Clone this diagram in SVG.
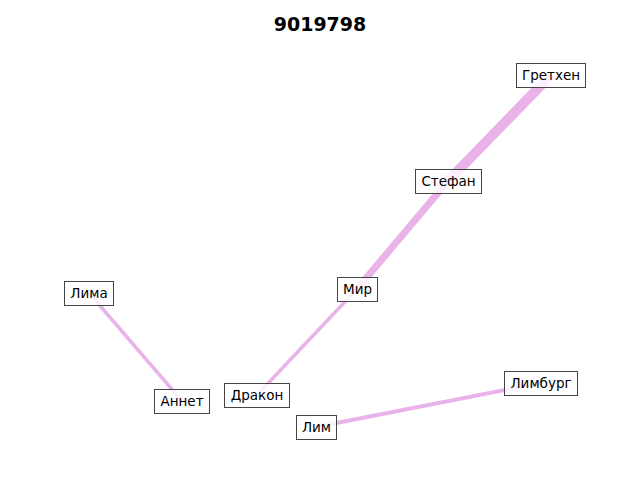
<svg xmlns="http://www.w3.org/2000/svg" width="640" height="480" viewBox="0 0 640 480">
<style>
.e{stroke:#e9b3ea;fill:none;stroke-linecap:butt}
.n rect{fill:#fff;fill-opacity:0.8;stroke:#444;stroke-width:1}
.n text{font-family:"DejaVu Sans",sans-serif;font-size:13.5px;fill:#000;text-anchor:middle;dominant-baseline:central}
.t{font-family:"DejaVu Sans",sans-serif;font-size:19px;font-weight:bold;text-anchor:middle}
</style>
<rect width="640" height="480" fill="#fff"/>
<text class="t" x="320" y="31">9019798</text>
<g id="edges">
<line class="e" x1="551" y1="75" x2="448" y2="181" stroke-width="10"/>
<line class="e" x1="448" y1="181" x2="357" y2="289" stroke-width="7"/>
<line class="e" x1="357" y1="289" x2="257" y2="395" stroke-width="3.5"/>
<line class="e" x1="89" y1="293" x2="182" y2="401" stroke-width="3.5"/>
<line class="e" x1="316" y1="427" x2="541" y2="383" stroke-width="4"/>
</g>
<g id="n-gretchen" class="n"><rect x="516.5" y="63.5" width="69" height="24"/><text x="551" y="75">Гретхен</text></g>
<g id="n-stefan" class="n"><rect x="415.5" y="169.5" width="66" height="24"/><text x="448.5" y="181">Стефан</text></g>
<g id="n-mir" class="n"><rect x="337.5" y="277.5" width="40" height="24"/><text x="357.5" y="289">Мир</text></g>
<g id="n-drakon" class="n"><rect x="224.5" y="383.5" width="65" height="24"/><text x="257" y="395">Дракон</text></g>
<g id="n-lima" class="n"><rect x="64.5" y="281.5" width="49" height="24"/><text x="89" y="293">Лима</text></g>
<g id="n-annet" class="n"><rect x="154.5" y="389.5" width="55" height="24"/><text x="182" y="401">Аннет</text></g>
<g id="n-lim" class="n"><rect x="296.5" y="415.5" width="40" height="24"/><text x="316.5" y="427">Лим</text></g>
<g id="n-limburg" class="n"><rect x="504.5" y="371.5" width="73" height="24"/><text x="541" y="383">Лимбург</text></g>
</svg>
